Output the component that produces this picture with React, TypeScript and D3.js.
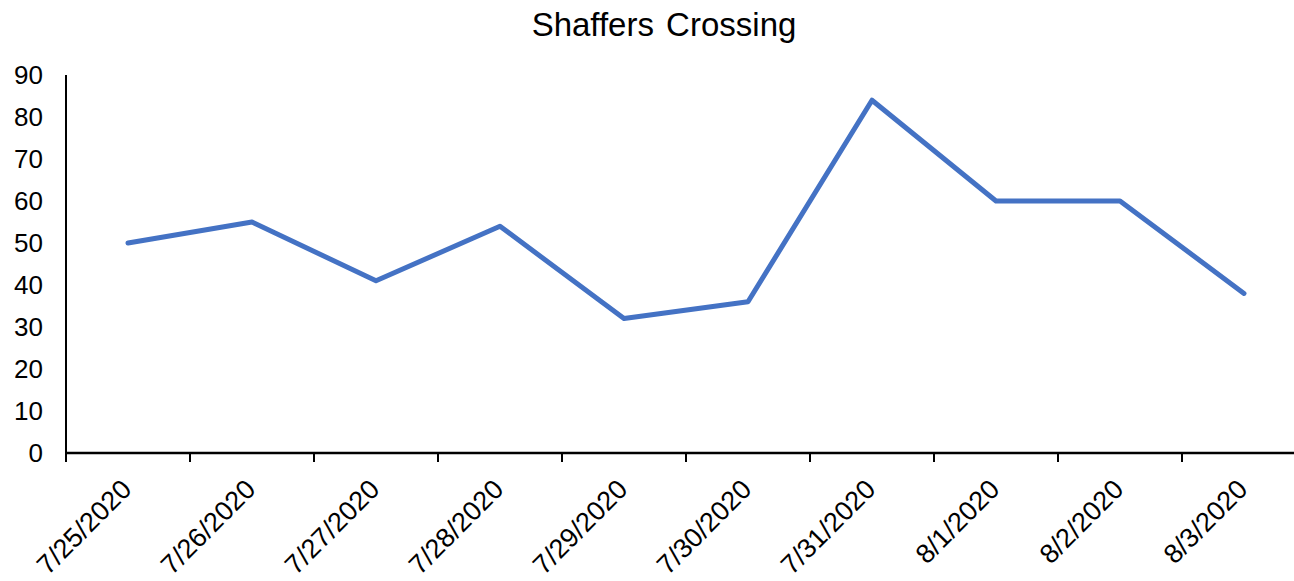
import React from "react";
import * as d3 from "d3";

const categories = ["7/25/2020", "7/26/2020", "7/27/2020", "7/28/2020", "7/29/2020", "7/30/2020", "7/31/2020", "8/1/2020", "8/2/2020", "8/3/2020"];
const values = [50, 55, 41, 54, 32, 36, 84, 60, 60, 38];
const yTicks = [0, 10, 20, 30, 40, 50, 60, 70, 80, 90];
const title = "Shaffers Crossing";

export default function App() {
  const W = 1294, H = 581;
  const left = 66, bottom = 453, top = 75;
  const bandW = 124;
  const x = d3.scaleBand<string>().domain(categories).range([left, left + bandW * categories.length]);
  const y = d3.scaleLinear().domain([0, 90]).range([bottom, top]);
  const line = d3.line<number>().x((_, i) => x(categories[i])! + x.bandwidth() / 2).y((d) => y(d));
  const font = "Liberation Sans, Arial, sans-serif";
  return (
    <svg width={W} height={H} style={{ position: "absolute", left: 0, top: 0, background: "#fff" }} fontFamily={font}>
      <text x={664} y={36} textAnchor="middle" fontSize={33} wordSpacing={3} fill="#000">{title}</text>
      {yTicks.map((t) => (
        <text key={t} x={43} y={y(t)} dy="0.36em" textAnchor="end" fontSize={26} fill="#000">{t}</text>
      ))}
      <line x1={left} x2={left} y1={top} y2={bottom} stroke="#000" strokeWidth={2} />
      <line x1={left - 1} x2={W} y1={bottom} y2={bottom} stroke="#000" strokeWidth={2.5} />
      {categories.map((c) => (
        <line key={"t" + c} x1={x(c)!} x2={x(c)!} y1={bottom} y2={bottom + 9} stroke="#000" strokeWidth={2} />
      ))}
      {categories.map((c) => {
        const cx = x(c)! + x.bandwidth() / 2 + 5;
        const cy = bottom + 38;
        return (
          <text key={"l" + c} transform={`translate(${cx},${cy}) rotate(-45)`} textAnchor="end" fontSize={27} fill="#000">{c}</text>
        );
      })}
      <path d={line(values)!} fill="none" stroke="#4472C4" strokeWidth={5} strokeLinejoin="round" strokeLinecap="round" />
    </svg>
  );
}
